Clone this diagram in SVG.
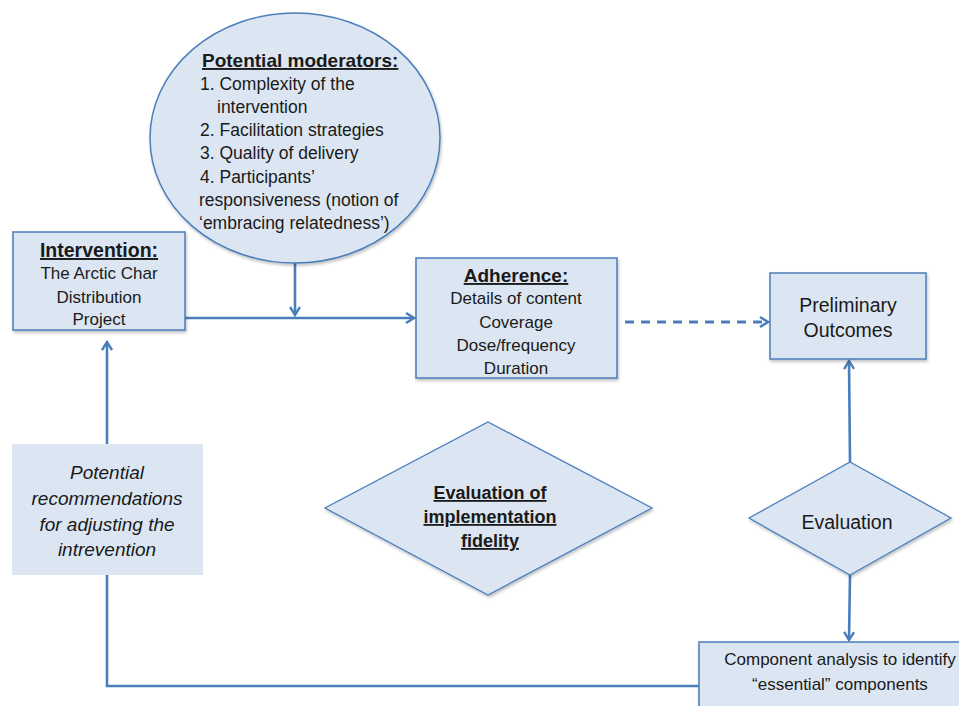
<svg xmlns="http://www.w3.org/2000/svg" width="959" height="706" viewBox="0 0 959 706">
  <defs>
    <filter id="sh" x="-10%" y="-10%" width="130%" height="130%">
      <feDropShadow dx="1" dy="2" stdDeviation="1.5" flood-color="#000" flood-opacity="0.25"/>
    </filter>
    <marker id="arr" viewBox="0 0 12 12" refX="10" refY="6" markerWidth="12" markerHeight="12" markerUnits="userSpaceOnUse" orient="auto">
      <path d="M2,1 L10,6 L2,11" fill="none" stroke="#4a7ebb" stroke-width="2.4" stroke-linejoin="miter"/>
    </marker>
    <style>
      .box { fill: #dce6f2; stroke: #4a7ebb; stroke-width: 1.5; filter: url(#sh); }
      .plain { fill: #dce6f2; stroke: none; }
      .dia { fill: #dce6f2; stroke: #4a7ebb; stroke-width: 1.3; filter: url(#sh); }
      .conn { fill: none; stroke: #4a7ebb; stroke-width: 2.6; }
      .dash { stroke-dasharray: 9 7; stroke-width: 3; }
      text { font-family: "Liberation Sans", Arial, sans-serif; fill: #1a1a1a; }
      .c { text-anchor: middle; }
      .b { font-weight: bold; text-decoration: underline; }
      .i { font-style: italic; }
    </style>
  </defs>

  <g id="connectors">
    <line class="conn" x1="295" y1="263" x2="295" y2="315" marker-end="url(#arr)"/>
    <line class="conn" x1="185" y1="318" x2="414" y2="318" marker-end="url(#arr)"/>
    <line class="conn dash" x1="625" y1="322" x2="768" y2="322" marker-end="url(#arr)"/>
    <line class="conn" x1="850" y1="462" x2="849" y2="361" marker-end="url(#arr)"/>
    <line class="conn" x1="850" y1="575" x2="849" y2="640" marker-end="url(#arr)"/>
    <polyline class="conn" points="699,686 107,686 107,342" marker-end="url(#arr)"/>
  </g>

  <g id="moderators">
    <ellipse class="box" cx="295" cy="138" rx="145" ry="125"/>
    <text class="b" x="202" y="67" font-size="19">Potential moderators:</text>
    <text x="200" y="90" font-size="17.5">1. Complexity of the</text>
    <text x="217" y="113" font-size="17.5">intervention</text>
    <text x="200" y="136" font-size="17.5">2. Facilitation strategies</text>
    <text x="200" y="159" font-size="17.5">3. Quality of delivery</text>
    <text x="200" y="183" font-size="17.5">4. Participants’</text>
    <text x="199" y="206" font-size="17.5">responsiveness (notion of</text>
    <text x="199" y="229" font-size="17.5">‘embracing relatedness’)</text>
  </g>

  <g id="intervention">
    <rect class="box" x="13" y="232" width="172" height="98"/>
    <text class="c b" x="99" y="257" font-size="19.5">Intervention:</text>
    <text class="c" x="99" y="279" font-size="17">The Arctic Char</text>
    <text class="c" x="99" y="303" font-size="17">Distribution</text>
    <text class="c" x="99" y="325" font-size="17">Project</text>
  </g>

  <g id="adherence">
    <rect class="box" x="416" y="258" width="201" height="120"/>
    <text class="c b" x="516" y="282" font-size="19">Adherence:</text>
    <text class="c" x="516" y="304" font-size="17">Details of content</text>
    <text class="c" x="516" y="328" font-size="17">Coverage</text>
    <text class="c" x="516" y="351" font-size="17">Dose/frequency</text>
    <text class="c" x="516" y="374" font-size="17">Duration</text>
  </g>

  <g id="outcomes">
    <rect class="box" x="770" y="273" width="156" height="86"/>
    <text class="c" x="848" y="312" font-size="19.5">Preliminary</text>
    <text class="c" x="848" y="337" font-size="19.5">Outcomes</text>
  </g>

  <g id="recommendations">
    <rect class="plain" x="12" y="444" width="191" height="131"/>
    <text class="c i" x="107" y="479" font-size="19">Potential</text>
    <text class="c i" x="107" y="505" font-size="19">recommendations</text>
    <text class="c i" x="107" y="531" font-size="19">for adjusting the</text>
    <text class="c i" x="107" y="556" font-size="19">intrevention</text>
  </g>

  <g id="fidelity">
    <polygon class="dia" points="488,422 652,508 488,595 325,508"/>
    <text class="c b" x="490" y="499" font-size="18">Evaluation of</text>
    <text class="c b" x="490" y="523" font-size="18">implementation</text>
    <text class="c b" x="490" y="547" font-size="18">fidelity</text>
  </g>

  <g id="evaluation">
    <polygon class="dia" points="850,462 951,518 850,575 749,518"/>
    <text class="c" x="847" y="529" font-size="19.5">Evaluation</text>
  </g>

  <g id="component">
    <rect class="box" x="699" y="642" width="290" height="80"/>
    <text class="c" x="840" y="665" font-size="17">Component analysis to identify</text>
    <text class="c" x="840" y="690" font-size="17">“essential” components</text>
  </g>
</svg>
